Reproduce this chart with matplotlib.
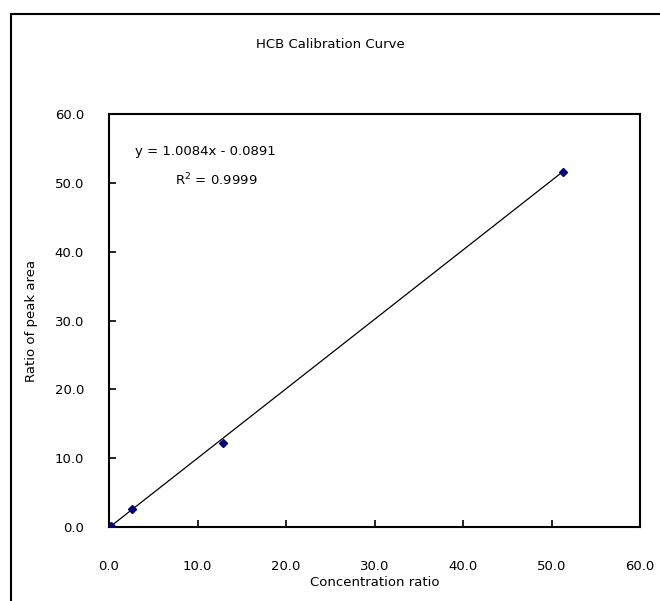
import numpy as np
import matplotlib.pyplot as plt
from matplotlib.patches import Rectangle

# calibration points (concentration ratio, ratio of peak area)
conc = [0.2, 2.6, 12.9, 51.3]
area = [0.2, 2.6, 12.2, 51.6]
slope = 1.0084
intercept = -0.0891
r2 = 0.9999
ticks = [0, 10, 20, 30, 40, 50, 60]

fig = plt.figure(figsize=(6.6, 6.01), dpi=100)
fig.patches.append(Rectangle((11/660, -0.1), 1.2, 1.1 - 14/601, transform=fig.transFigure,
                             fill=False, lw=1.5, ec='black'))

ax = fig.add_axes([109/660, 1 - 527/601, (640-109)/660, (527-114)/601])

xs = np.array([min(conc), max(conc)])
ax.plot(xs, slope*xs + intercept, color='black', lw=0.9, zorder=2)
ax.plot(conc, area, 'D', color='#000080', ms=4, zorder=3)

ax.set_xlim(0, 60)
ax.set_ylim(0, 60)
ax.set_xticks(ticks)
ax.set_yticks(ticks)
ax.set_xticklabels(['%.1f' % t for t in ticks], fontsize=9.5)
ax.set_yticklabels(['%.1f' % t for t in ticks], fontsize=9.5)
ax.tick_params(direction='in', length=5, width=1.2)
ax.tick_params(axis='x', pad=24)
ax.tick_params(axis='y', pad=18)
for side in ax.spines.values():
    side.set_linewidth(1.5)

ax.set_xlabel('Concentration ratio', fontsize=9.5, labelpad=2)
ax.set_ylabel('Ratio of peak area', fontsize=9.5, labelpad=12)
fig.text(0.5, 1 - 44/601, 'HCB Calibration Curve', ha='center', va='center', fontsize=9.5)

fig.text(135/660, 1 - 152/601, 'y = %.4fx - %.4f' % (slope, -intercept), fontsize=9.5, va='center')
fig.text(175/660, 1 - 180/601, 'R$^2$ = %.4f' % r2, fontsize=9.5, va='center')

fig.savefig('out.png', dpi=100)
